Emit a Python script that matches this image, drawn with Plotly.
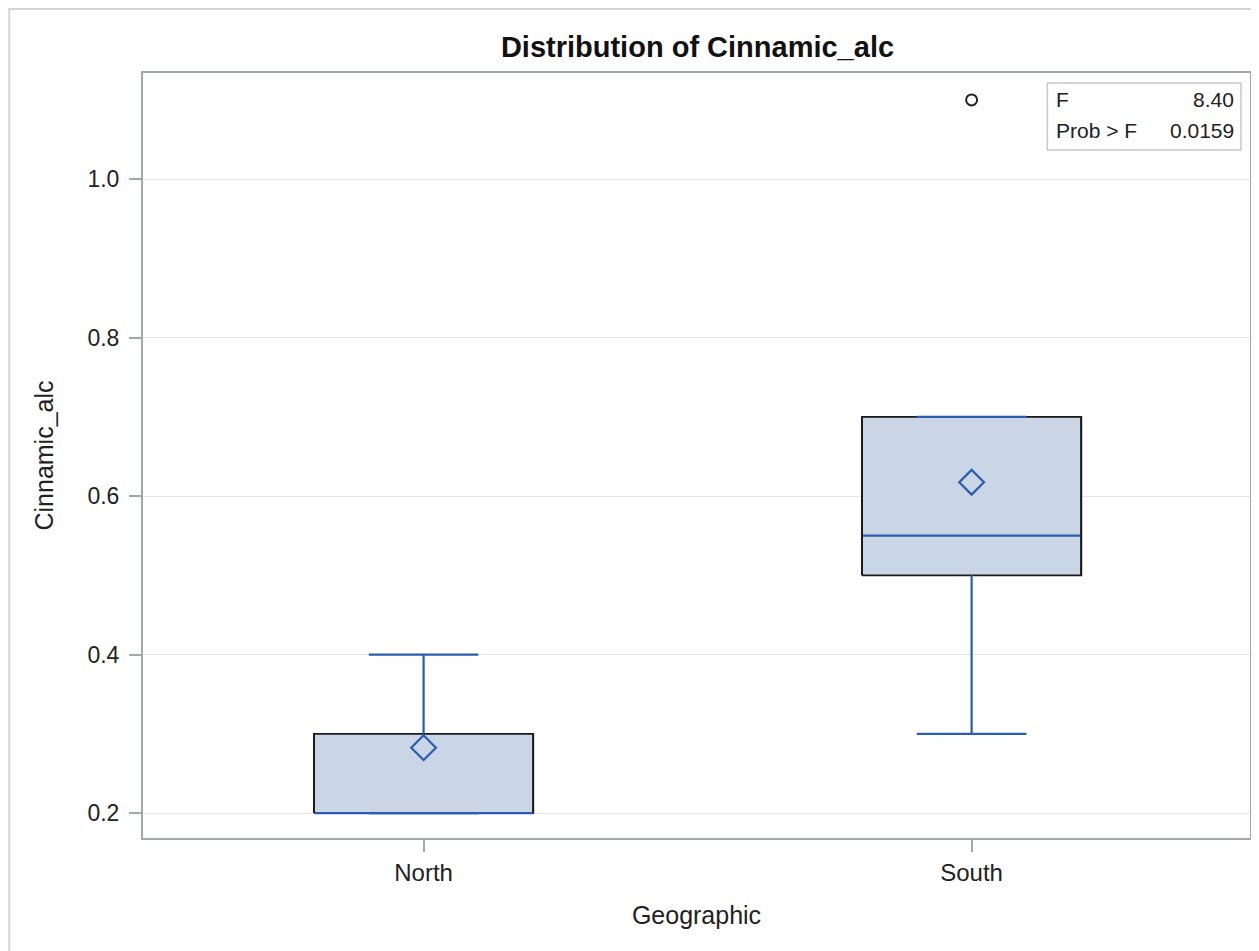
import plotly.graph_objects as go

# ---- data ----
categories = ["North", "South"]
q1 = [0.2, 0.5]
median = [0.2, 0.55]
q3 = [0.3, 0.7]
whisker_lo = [0.2, 0.3]
whisker_hi = [0.4, 0.7]
means = [0.2825, 0.6175]
outlier_cat = ["South"]
outlier_val = [1.1]
y_ticks = [0.2, 0.4, 0.6, 0.8, 1.0]
f_value = "8.40"
p_value = "0.0159"

BOX_HALF = 0.2
CAP_HALF = 0.1
FILL = "#CAD5E5"
BLUE = "#2A5DB0"
AXIS = "#A3A8AC"
FONT = "Liberation Sans, Arial, sans-serif"

# page has an 8px body margin; work in reference-page pixels
OFF = 8
W, H = 1259 - OFF, 951 - OFF
PL, PR, PT, PB = 143, 1252, 73, 838  # plot area in reference-page pixels

pos = {c: i for i, c in enumerate(categories)}
fig = go.Figure()

for i, c in enumerate(categories):
    x = pos[c]
    fig.add_trace(go.Scatter(
        x=[x - BOX_HALF, x + BOX_HALF, x + BOX_HALF, x - BOX_HALF, x - BOX_HALF],
        y=[q1[i], q1[i], q3[i], q3[i], q1[i]],
        mode="lines", fill="toself", fillcolor=FILL,
        line=dict(color="#1a1a1a", width=1.8), hoverinfo="skip", showlegend=False))
    fig.add_trace(go.Scatter(
        x=[x - BOX_HALF, x + BOX_HALF], y=[median[i], median[i]],
        mode="lines", line=dict(color=BLUE, width=2.2), showlegend=False))
    fig.add_trace(go.Scatter(
        x=[x, x, None, x, x],
        y=[q3[i], whisker_hi[i], None, q1[i], whisker_lo[i]],
        mode="lines", line=dict(color=BLUE, width=2.2), showlegend=False))
    fig.add_trace(go.Scatter(
        x=[x - CAP_HALF, x + CAP_HALF, None, x - CAP_HALF, x + CAP_HALF],
        y=[whisker_hi[i], whisker_hi[i], None, whisker_lo[i], whisker_lo[i]],
        mode="lines", line=dict(color=BLUE, width=2.2), showlegend=False))
    fig.add_trace(go.Scatter(
        x=[x - BOX_HALF, x - BOX_HALF, None, x + BOX_HALF, x + BOX_HALF],
        y=[q1[i], q3[i], None, q1[i], q3[i]],
        mode="lines", line=dict(color="#1a1a1a", width=1.8), showlegend=False))

fig.add_trace(go.Scatter(
    x=[pos[c] for c in categories], y=means, mode="markers",
    marker=dict(symbol="diamond-open", size=19, color=BLUE, line=dict(width=2.2, color=BLUE)),
    showlegend=False))
fig.add_trace(go.Scatter(
    x=[pos[c] for c in outlier_cat], y=outlier_val, mode="markers",
    marker=dict(symbol="circle-open", size=11, color="#222", line=dict(width=2, color="#222")),
    showlegend=False))

fig.update_layout(
    width=W, height=H,
    margin=dict(l=PL - OFF, r=W - (PR - OFF), t=PT - OFF, b=H - (PB - OFF)),
    paper_bgcolor="white", plot_bgcolor="white",
    font=dict(family=FONT, size=22, color="#222"),
    title=dict(text="<b>Distribution of Cinnamic_alc</b>",
               x=((PL + PR) / 2 - OFF) / W, xanchor="center",
               y=1 - (47 - OFF) / H, yanchor="middle",
               font=dict(size=29, color="#111", family=FONT)),
    xaxis=dict(range=[-0.512, 1.508], tickvals=list(range(len(categories))),
               ticktext=categories, showgrid=False, zeroline=False,
               showline=True, linecolor=AXIS, linewidth=2, mirror=True,
               ticks="outside", ticklen=12, tickcolor=AXIS, tickwidth=1.5,
               title=dict(text="Geographic", font=dict(size=25), standoff=22),
               tickfont=dict(size=24, color="#222")),
    yaxis=dict(range=[0.1685, 1.134], tickvals=y_ticks, tickformat=".1f",
               showgrid=True, gridcolor="#E6E6E6", gridwidth=1.2, zeroline=False,
               showline=True, linecolor=AXIS, linewidth=2, mirror=True,
               ticks="outside", ticklen=12, tickcolor=AXIS, tickwidth=1.5,
               ticklabelstandoff=5,
               title=dict(text="Cinnamic_alc", font=dict(size=25), standoff=27),
               tickfont=dict(size=23, color="#222")),
)


def px_x(p):
    return (p - PL) / (PR - PL)


def px_y(p):
    return (PB - p) / (PB - PT)


# outer frame
fig.add_shape(type="rect", xref="paper", yref="paper",
              x0=px_x(9), x1=px_x(1275), y0=px_y(970), y1=px_y(9),
              line=dict(color="#D4D4D4", width=2), layer="below")

# stats inset
fig.add_shape(type="rect", xref="paper", yref="paper",
              x0=px_x(1049), x1=px_x(1243), y0=px_y(150), y1=px_y(83),
              line=dict(color="#C8C8C8", width=1.5), fillcolor="white")
for txt, xx, anchor, yy in [("F", 1056, "left", 100), (f_value, 1238, "right", 100),
                            ("Prob > F", 1056, "left", 131), (p_value, 1238, "right", 131)]:
    fig.add_annotation(text=txt, xref="paper", yref="paper", x=px_x(xx), y=px_y(yy),
                       xanchor=anchor, yanchor="middle", showarrow=False,
                       font=dict(size=21, color="#222"))

fig.write_html("out.html")
